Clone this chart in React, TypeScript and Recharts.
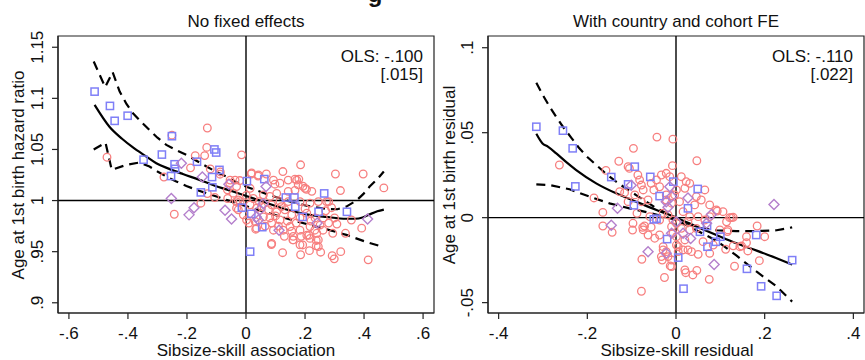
import { ComposedChart, Scatter, Line, XAxis, YAxis, ReferenceLine, ReferenceArea } from 'recharts';

type Pt = [number, number];

// ---- left panel: no fixed effects ----
const leftXTicks = [-0.6, -0.4, -0.2, 0, 0.2, 0.4, 0.6];
const leftYTicks = [0.9, 0.95, 1, 1.05, 1.1, 1.15];

const leftCircles: Pt[] = [
  [-0.471, 1.0424], [-0.251, 1.064], [-0.131, 1.071], [-0.133, 1.052], [-0.172, 1.044], [-0.14, 1.044],
  [-0.121, 1.031], [-0.188, 1.032], [-0.278, 1.023], [-0.243, 0.9866], [-0.153, 0.9974], [-0.131, 1.0068],
  [-0.106, 1.003], [-0.087, 1.028], [-0.015, 1.0447], [-0.037, 1.02], [-0.021, 1.0196], [-0.055, 1.017],
  [-0.062, 1.002], [-0.033, 0.999], [0.001, 1.005], [0.018, 1.026], [0.041, 1.024], [0.069, 1.026],
  [0.098, 1.016], [0.125, 1.0284], [0.185, 1.035], [0.166, 1.021], [0.179, 1.021], [0.193, 1.014],
  [0.205, 1.011], [0.303, 1.026], [0.397, 1.026], [0.32, 1.0098], [0.467, 1.0124], [0.357, 0.981],
  [0.392, 0.973], [0.414, 0.942], [0.292, 0.946], [0.299, 0.943], [0.321, 0.95], [0.294, 0.968],
  [0.337, 0.968], [0.308, 0.977], [0.28, 0.978], [0.253, 0.9495], [0.215, 0.951], [0.185, 0.947],
  [0.124, 0.949], [0.086, 0.957], [0.159, 0.9615], [0.187, 0.965], [0.213, 0.966], [0.238, 0.961],
  [0.238, 0.9557], [0.192, 0.9566], [0.261, 0.971], [0.233, 0.971], [0.033, 0.972], [0.01, 0.978],
  [0.019, 1.027], [0.042, 1.025], [0.093, 1.02], [0.115, 1.017], [0.143, 1.02], [0.172, 1.02],
  [0.177, 1.0154], [0.2, 1.012], [0.223, 1.009], [0.166, 1.01], [0.143, 1.009], [0.104, 1.007],
  [0.081, 1.004], [0.059, 1.0056], [0.025, 1.002], [-0.02, 0.999], [-0.032, 0.9926], [-0.009, 0.986],
  [0.002, 0.981], [0.031, 0.9795], [0.036, 0.973], [0.087, 0.978], [0.115, 0.981], [0.093, 0.971],
  [0.126, 0.971], [0.149, 0.9746], [0.16, 0.965], [0.183, 0.971], [0.217, 0.9746], [0.206, 0.966],
  [0.251, 0.976], [0.262, 0.983], [0.234, 0.983], [0.206, 0.9877], [0.183, 0.983], [0.155, 0.986],
  [0.132, 0.991], [0.104, 0.989], [0.076, 0.991], [0.053, 0.994], [0.081, 0.983], [0.059, 0.984],
  [0.183, 0.999], [0.217, 0.9975], [0.245, 0.999], [0.273, 0.999], [0.115, 0.999], [0.087, 0.9958],
  [0.143, 0.999], [0.16, 0.9615], [0.217, 0.963], [0.245, 0.9615], [0.087, 0.958], [0.245, 0.955],
  [0.183, 0.9567], [0.014, 1.012], [-0.032, 1.0137], [-0.043, 1.0072], [0.014, 0.9958], [0.036, 0.9926],
  [-0.063, 1.0105], [-0.054, 1.02], [-0.088, 1.0258], [-0.026, 1.0007], [-0.026, 0.991],
  [0.1, 0.985], [0.12, 0.994], [0.14, 0.98], [0.17, 0.978], [0.2, 0.992], [0.22, 0.98], [0.27, 0.99],
  [0.29, 0.993], [0.065, 0.975], [0.045, 0.999], [0.13, 0.965], [0.155, 0.97], [0.28, 0.999],
  [0.3, 0.983], [0.24, 0.968], [0.11, 0.975],
];

const leftSquares: Pt[] = [
  [-0.513, 1.1066], [-0.461, 1.0926], [-0.445, 1.078], [-0.401, 1.083], [-0.251, 1.063], [-0.347, 1.04],
  [-0.285, 1.045], [-0.242, 1.0355], [-0.24, 1.031], [-0.254, 1.024], [-0.166, 1.038], [-0.107, 1.05],
  [-0.101, 1.047], [-0.09, 1.03], [-0.115, 1.023], [-0.114, 1.013], [-0.153, 1.008], [0.003, 1.019],
  [0.062, 1.021], [-0.014, 0.993], [0.018, 0.987], [0.055, 0.974], [0.014, 0.95], [0.135, 1.003],
  [0.164, 1.003], [0.167, 0.994], [0.192, 0.984], [0.246, 0.989], [0.265, 1.007], [0.342, 0.989],
];

const leftDiamonds: Pt[] = [
  [-0.219, 1.0365], [-0.148, 1.023], [-0.253, 1.002], [-0.193, 0.986], [-0.176, 0.993], [-0.071, 0.9905],
  [-0.049, 0.982], [-0.058, 1.016], [0.068, 1.0137], [0.058, 0.997], [0.035, 0.984], [0.042, 0.981],
  [0.112, 0.971], [0.412, 0.982], [0.241, 0.978], [0.047, 0.991],
];

const leftFit: Pt[] = [
  [-0.513, 1.0936], [-0.462, 1.072], [-0.42, 1.0605], [-0.383, 1.052], [-0.34, 1.0435], [-0.304, 1.0365],
  [-0.26, 1.031], [-0.214, 1.026], [-0.16, 1.0205], [-0.112, 1.0153], [-0.044, 1.0088], [0.001, 1.0045],
  [0.069, 0.9978], [0.137, 0.9912], [0.205, 0.9865], [0.272, 0.984], [0.34, 0.9822], [0.37, 0.9822],
  [0.395, 0.9835], [0.419, 0.9865], [0.445, 0.9895], [0.467, 0.9912],
];

const leftUpper: Pt[] = [
  [-0.516, 1.136], [-0.477, 1.111], [-0.452, 1.1256], [-0.428, 1.1066], [-0.405, 1.0945], [-0.383, 1.0854],
  [-0.355, 1.077], [-0.327, 1.069], [-0.3, 1.0615], [-0.27, 1.0545], [-0.236, 1.0493], [-0.202, 1.0447],
  [-0.168, 1.039], [-0.134, 1.0333], [-0.1, 1.028], [-0.067, 1.0235], [-0.033, 1.018], [0.001, 1.0135],
  [0.069, 1.0065], [0.137, 1.0], [0.205, 0.995], [0.272, 0.9918], [0.31, 0.9915], [0.34, 0.9941],
  [0.374, 1.0], [0.398, 1.0065], [0.419, 1.0137], [0.445, 1.021], [0.467, 1.0284],
];

const leftLower: Pt[] = [
  [-0.516, 1.05], [-0.476, 1.0567], [-0.455, 1.03], [-0.406, 1.0349], [-0.361, 1.0372], [-0.327, 1.0333],
  [-0.3, 1.0285], [-0.27, 1.0235], [-0.236, 1.0187], [-0.202, 1.0143], [-0.168, 1.0105], [-0.134, 1.0072],
  [-0.1, 1.004], [-0.067, 1.0007], [-0.033, 0.9975], [0.001, 0.9945], [0.069, 0.9885], [0.137, 0.9825],
  [0.205, 0.977], [0.272, 0.972], [0.34, 0.9664], [0.408, 0.9595], [0.467, 0.9544],
];

// ---- right panel: with country and cohort FE ----
const rightXTicks = [-0.4, -0.2, 0, 0.2, 0.4];
const rightYTicks = [-0.05, 0, 0.05, 0.1];

const rightCircles: Pt[] = [
  [-0.263, 0.031], [-0.165, 0.0031], [-0.165, -0.0049], [-0.144, -0.0086], [-0.185, 0.0116], [-0.158, 0.0278],
  [-0.129, 0.0332], [-0.108, 0.03], [-0.096, 0.0408], [-0.043, 0.0474], [-0.007, 0.0462], [-0.008, 0.0306],
  [0.047, 0.0335], [-0.078, -0.0433], [-0.077, -0.0245], [-0.026, -0.0352], [-0.013, -0.0284], [0.022, -0.0324],
  [0.038, -0.0337], [0.047, -0.031], [0.075, -0.0363], [0.132, -0.0286], [0.188, -0.0253], [0.162, -0.0196],
  [0.148, -0.0167], [0.183, -0.0049], [0.112, -0.0186], [0.116, -0.0082], [0.106, 0.0035], [0.125, 0.0],
  [0.093, 0.0039], [-0.098, -0.0073], [-0.075, -0.0057], [-0.063, -0.0102], [-0.029, -0.019], [-0.031, -0.0249],
  [0.016, -0.019], [0.027, -0.019], [-0.105, 0.029], [-0.086, 0.0251], [-0.082, 0.0222], [-0.078, 0.0192],
  [-0.056, 0.0202], [-0.044, 0.0222], [-0.033, 0.0251], [-0.022, 0.0261], [-0.037, 0.0182], [-0.05, 0.0163],
  [-0.074, 0.0163], [-0.093, 0.0134], [-0.116, 0.0147], [-0.127, 0.0153], [-0.108, 0.0094], [-0.078, 0.0094],
  [-0.063, 0.0104], [-0.088, 0.0026], [-0.097, -0.0033], [-0.071, -0.0049], [-0.074, -0.0072], [-0.048, -0.0121],
  [-0.056, -0.0056], [-0.037, -0.0102], [-0.037, -0.0014], [-0.029, 0.0026], [-0.018, 0.0016], [-0.007, -0.0014],
  [-0.01, -0.0053], [-0.029, -0.0171], [-0.022, -0.02], [-0.033, -0.0229], [-0.018, -0.0229], [-0.01, -0.0249],
  [-0.01, -0.0288], [-0.014, 0.0241], [-0.003, 0.0134], [-0.01, 0.0085], [-0.022, 0.0104], [-0.022, 0.0134],
  [-0.059, 0.0006], [0.001, -0.0112], [0.001, -0.0161], [0.005, -0.02], [0.012, 0.0241], [0.023, 0.0212],
  [0.031, 0.0202], [0.02, 0.0173], [0.065, 0.0163], [0.046, 0.0124], [0.057, 0.0104], [0.042, 0.0075],
  [0.008, 0.0094], [0.001, 0.0163], [0.091, 0.0045], [0.121, 0.0], [0.129, 0.0002], [0.076, 0.0006],
  [0.065, -0.0014], [0.05, 0.0006], [0.031, 0.0006], [0.016, 0.0035], [0.001, -0.0033], [0.012, -0.0063],
  [-0.007, -0.0092], [0.031, -0.0072], [0.046, -0.0063], [0.114, -0.0024], [0.117, -0.0072], [0.159, -0.0112],
  [0.144, -0.0171], [0.129, -0.0166], [0.2, -0.0112], [0.159, -0.0147], [0.084, -0.0161], [0.076, -0.021],
  [0.05, -0.0216], [0.035, -0.02], [0.005, -0.0171], [0.02, -0.0308], [0.02, -0.0131], [0.061, -0.0141],
  [0.027, -0.0024], [0.076, 0.0075], [0.099, -0.0072],
];

const rightSquares: Pt[] = [
  [-0.315, 0.0535], [-0.255, 0.0512], [-0.233, 0.0408], [-0.227, 0.0184], [-0.146, 0.0239], [-0.108, 0.0196],
  [-0.093, 0.03], [-0.095, 0.0073], [-0.058, 0.024], [-0.037, 0.0127], [-0.05, -0.001], [-0.044, -0.0006],
  [-0.006, 0.0212], [0.027, 0.0055], [0.049, 0.0169], [-0.02, -0.0126], [0.005, -0.0235], [0.017, -0.0418],
  [0.054, -0.0083], [0.07, -0.0049], [0.071, -0.0171], [0.09, -0.0142], [0.1, -0.0112], [0.16, -0.0301],
  [0.181, -0.0102], [0.192, -0.0404], [0.227, -0.046], [0.262, -0.025],
];

const rightDiamonds: Pt[] = [
  [-0.132, 0.0055], [-0.146, -0.0045], [-0.063, -0.02], [-0.101, 0.0191], [-0.014, 0.0182], [-0.022, 0.0094],
  [-0.018, 0.0061], [0.027, 0.0116], [-0.022, -0.021], [0.016, -0.0092], [0.033, -0.0122], [0.08, 0.0019],
  [0.086, -0.0275], [0.221, 0.0078], [0.069, -0.0033], [-0.01, -0.0092], [0.001, -0.0024], [-0.01, 0.0124],
];

const rightFit: Pt[] = [
  [-0.315, 0.0494], [-0.301, 0.0437], [-0.289, 0.0418], [-0.27, 0.0378], [-0.248, 0.0328], [-0.225, 0.028],
  [-0.18, 0.0202], [-0.135, 0.0143], [-0.09, 0.0094], [-0.044, 0.0045], [0.001, 0.0], [0.047, -0.0053],
  [0.091, -0.0102], [0.136, -0.0151], [0.182, -0.0194], [0.227, -0.0239], [0.262, -0.0276],
];

const rightUpper: Pt[] = [
  [-0.315, 0.0794], [-0.3, 0.072], [-0.285, 0.0653], [-0.27, 0.0592], [-0.255, 0.0535], [-0.236, 0.047],
  [-0.218, 0.0408], [-0.2, 0.0357], [-0.18, 0.031], [-0.158, 0.0259], [-0.135, 0.0212], [-0.112, 0.017],
  [-0.09, 0.0133], [-0.044, 0.0055], [0.001, -0.0004], [0.047, -0.0058], [0.091, -0.0074], [0.136, -0.0079],
  [0.182, -0.0079], [0.227, -0.0074], [0.262, -0.0057],
];

const rightLower: Pt[] = [
  [-0.315, 0.0196], [-0.285, 0.0192], [-0.24, 0.0167], [-0.195, 0.0124], [-0.15, 0.0084], [-0.105, 0.0055],
  [-0.06, 0.0029], [0.001, -0.0014], [0.047, -0.0075], [0.091, -0.0135], [0.136, -0.0222], [0.182, -0.0318],
  [0.227, -0.0405], [0.262, -0.0494],
];

const FONT = '"Liberation Sans", Arial, Helvetica, sans-serif';
const RED = '#F77F7F';
const BLUE = '#7F7FF7';
const PURPLE = '#B47FCC';

const toRows = (pts: Pt[]) => pts.map(([x, y]) => ({ x, y }));

// Stata-style numbers: .2, -.05, 1.1
const stataNum = (v: number) => String(v).replace(/^(-?)0\./, '$1.');

function CircleMark(props: any) {
  const { cx, cy } = props;
  return <circle cx={cx} cy={cy} r={3.8} fill="none" stroke={RED} strokeWidth={1.3} />;
}

function SquareMark(props: any) {
  const { cx, cy } = props;
  return <rect x={cx - 3.6} y={cy - 3.6} width={7.2} height={7.2} fill="none" stroke={BLUE} strokeWidth={1.5} />;
}

function DiamondMark(props: any) {
  const { cx, cy } = props;
  const r = 5;
  return (
    <polygon
      points={`${cx},${cy - r} ${cx + r},${cy} ${cx},${cy + r} ${cx - r},${cy}`}
      fill="none"
      stroke={PURPLE}
      strokeWidth={1.4}
    />
  );
}

function XTick(props: any) {
  const { x, y, payload } = props;
  return (
    <text x={x} y={y + 17.5} textAnchor="middle" fontFamily={FONT} fontSize={17} fill="#111">
      {stataNum(payload.value)}
    </text>
  );
}

function YTick(props: any) {
  const { x, y, payload } = props;
  const bx = x - 6.5;
  return (
    <text x={bx} y={y} transform={`rotate(-90 ${bx} ${y})`} textAnchor="middle" fontFamily={FONT} fontSize={17} fill="#111">
      {stataNum(payload.value)}
    </text>
  );
}

type PanelProps = {
  width: number;
  right: number;
  xDomain: [number, number];
  yDomain: [number, number];
  xTicks: number[];
  yTicks: number[];
  refY: number;
  circles: Pt[];
  squares: Pt[];
  diamonds: Pt[];
  fit: Pt[];
  upper: Pt[];
  lower: Pt[];
};

function Panel(p: PanelProps) {
  const dash = '9 6';
  return (
    <ComposedChart width={p.width} height={360} margin={{ top: 36, right: p.right, bottom: 0, left: 0 }}>
      <XAxis
        type="number"
        dataKey="x"
        domain={p.xDomain}
        ticks={p.xTicks}
        interval={0}
        allowDataOverflow
        height={47}
        tickSize={6}
        tickMargin={2}
        axisLine={{ stroke: '#222', strokeWidth: 1.2 }}
        tickLine={{ stroke: '#222', strokeWidth: 1.2 }}
        tick={(t: any) => <XTick {...t} />}
      />
      <YAxis
        type="number"
        dataKey="y"
        domain={p.yDomain}
        ticks={p.yTicks}
        interval={0}
        allowDataOverflow
        width={58}
        tickSize={6}
        tickMargin={2}
        axisLine={{ stroke: '#222', strokeWidth: 1.2 }}
        tickLine={{ stroke: '#222', strokeWidth: 1.2 }}
        tick={(t: any) => <YTick {...t} />}
      />
      <ReferenceArea
        x1={p.xDomain[0]}
        x2={p.xDomain[1]}
        y1={p.yDomain[0]}
        y2={p.yDomain[1]}
        fill="none"
        fillOpacity={0}
        stroke="#222"
        strokeWidth={1.2}
        ifOverflow="visible"
      />
      <Scatter data={toRows(p.circles)} dataKey="y" shape={CircleMark} isAnimationActive={false} />
      <Scatter data={toRows(p.squares)} dataKey="y" shape={SquareMark} isAnimationActive={false} />
      <Scatter data={toRows(p.diamonds)} dataKey="y" shape={DiamondMark} isAnimationActive={false} />
      <ReferenceLine x={0} stroke="#000" strokeWidth={1.4} />
      <ReferenceLine y={p.refY} stroke="#000" strokeWidth={1.4} />
      <Line data={toRows(p.upper)} dataKey="y" type="linear" stroke="#000" strokeWidth={2.2} strokeDasharray={dash} dot={false} isAnimationActive={false} />
      <Line data={toRows(p.lower)} dataKey="y" type="linear" stroke="#000" strokeWidth={2.2} strokeDasharray={dash} dot={false} isAnimationActive={false} />
      <Line data={toRows(p.fit)} dataKey="y" type="monotone" stroke="#000" strokeWidth={2.2} dot={false} isAnimationActive={false} />
    </ComposedChart>
  );
}

export default function App() {
  const txt = { fontFamily: FONT, fontSize: 17, fill: '#111' };
  return (
    <div style={{ position: 'absolute', left: 0, top: 0, width: 865, height: 360, background: '#fff', overflow: 'hidden' }}>
      <div style={{ position: 'absolute', left: 0, top: 0 }}>
        <Panel
          width={440}
          right={6}
          xDomain={[-0.637, 0.637]}
          yDomain={[0.89, 1.161]}
          xTicks={leftXTicks}
          yTicks={leftYTicks}
          refY={1}
          circles={leftCircles}
          squares={leftSquares}
          diamonds={leftDiamonds}
          fit={leftFit}
          upper={leftUpper}
          lower={leftLower}
        />
      </div>
      <div style={{ position: 'absolute', left: 430, top: 0 }}>
        <Panel
          width={435}
          right={1}
          xDomain={[-0.424, 0.424]}
          yDomain={[-0.0561, 0.1069]}
          xTicks={rightXTicks}
          yTicks={rightYTicks}
          refY={0}
          circles={rightCircles}
          squares={rightSquares}
          diamonds={rightDiamonds}
          fit={rightFit}
          upper={rightUpper}
          lower={rightLower}
        />
      </div>
      <svg width={865} height={360} style={{ position: 'absolute', left: 0, top: 0, pointerEvents: 'none' }}>
        <text x={375} y={2} textAnchor="middle" fontFamily={FONT} fontSize={24} fontWeight="bold" fill="#111">g</text>
        <text x={246} y={27} textAnchor="middle" {...txt}>No fixed effects</text>
        <text x={676} y={27} textAnchor="middle" {...txt}>With country and cohort FE</text>
        <text x={423} y={62} textAnchor="end" {...txt}>OLS: -.100</text>
        <text x={423} y={80} textAnchor="end" {...txt}>[.015]</text>
        <text x={853} y={62} textAnchor="end" {...txt}>OLS: -.110</text>
        <text x={853} y={80} textAnchor="end" {...txt}>[.022]</text>
        <text transform="translate(24,175) rotate(-90)" textAnchor="middle" {...txt}>Age at 1st birth hazard ratio</text>
        <text transform="translate(454.5,175) rotate(-90)" textAnchor="middle" {...txt}>Age at 1st birth residual</text>
        <text x={246} y={356} textAnchor="middle" {...txt}>Sibsize-skill association</text>
        <text x={677} y={356} textAnchor="middle" {...txt}>Sibsize-skill residual</text>
      </svg>
    </div>
  );
}
